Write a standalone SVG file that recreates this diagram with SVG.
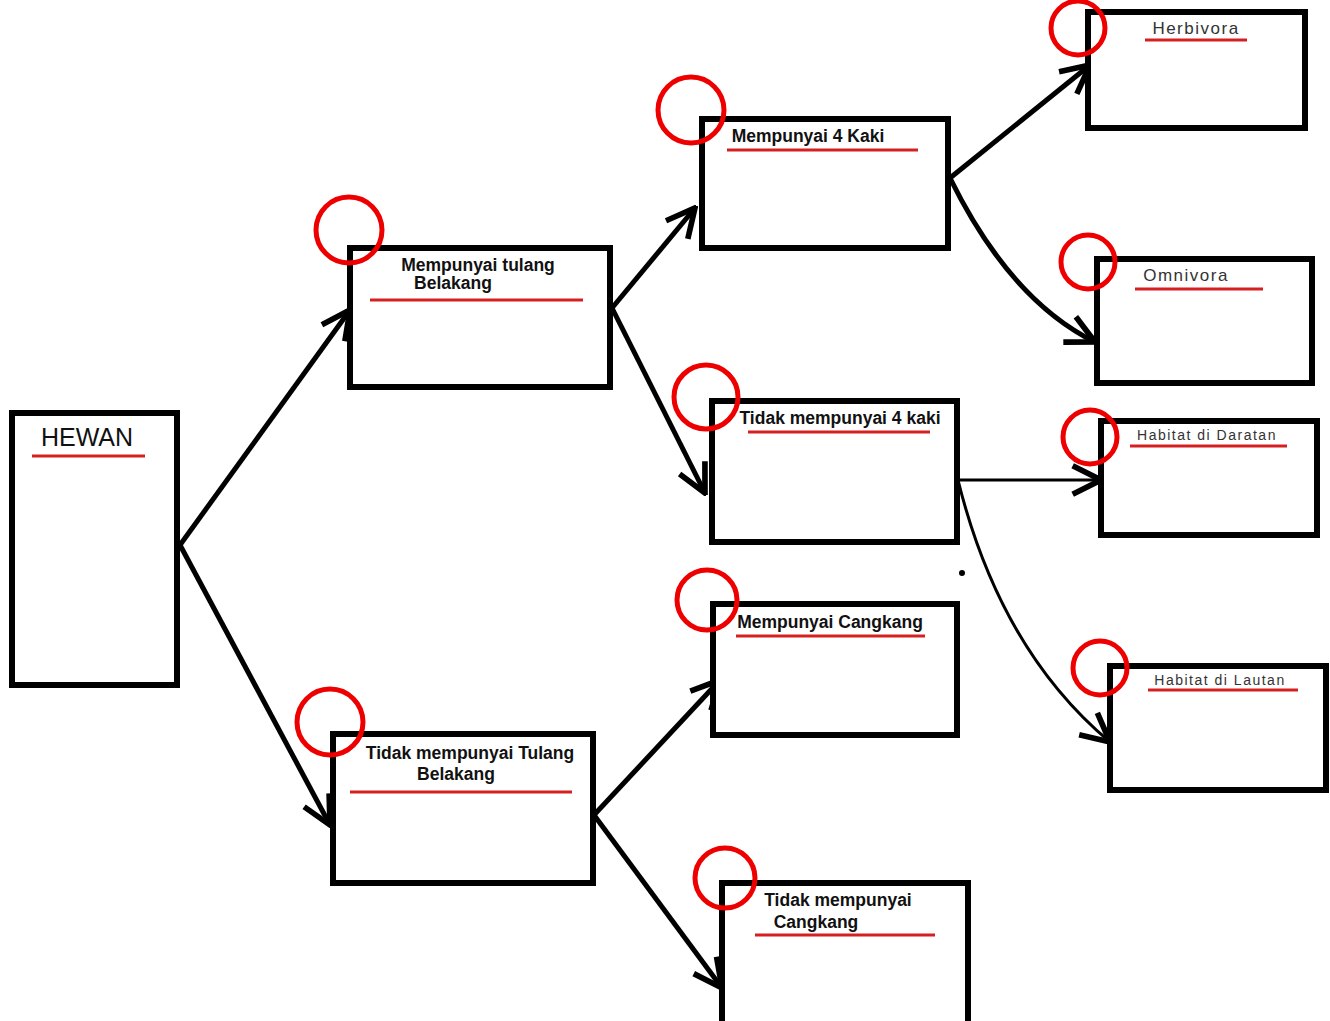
<svg xmlns="http://www.w3.org/2000/svg" width="1330" height="1021" viewBox="0 0 1330 1021">
<defs>
<style>
.box{fill:#fff;stroke:#000;stroke-width:6}
.ring{fill:none;stroke:#e00;stroke-width:5}
.ul{stroke:#d62020;stroke-width:3}
.t{font-family:"Liberation Sans",Arial,sans-serif;font-size:17.5px;font-weight:bold;fill:#111;text-anchor:middle}
.tl{font-family:"Liberation Sans",Arial,sans-serif;font-size:17px;letter-spacing:1.5px;fill:#333;text-anchor:middle}
.ts{font-family:"Liberation Sans",Arial,sans-serif;font-size:14px;letter-spacing:1.5px;fill:#333;text-anchor:middle}
.c{fill:none;stroke:#000;stroke-width:5}
.thin{fill:none;stroke:#000;stroke-width:3}
</style>
<marker id="ah" viewBox="0 0 12 12" refX="11" refY="6" markerWidth="34" markerHeight="34" markerUnits="userSpaceOnUse" orient="auto">
<path d="M1,1 L11,6 L1,11" fill="none" stroke="#000" stroke-width="2"/>
</marker>
</defs>
<rect width="1330" height="1021" fill="#fff"/>
<g id="connectors">
<path class="c" d="M180,545 L350,310" marker-end="url(#ah)"/>
<path class="c" d="M180,545 L330,825" marker-end="url(#ah)"/>
<path class="c" d="M612,308 L695,208" marker-end="url(#ah)"/>
<path class="c" d="M612,308 L705,493" marker-end="url(#ah)"/>
<path class="c" d="M594,815 L720,680" marker-end="url(#ah)"/>
<path class="c" d="M594,815 L722,988" marker-end="url(#ah)"/>
<path class="c" d="M950,178 L1090,65" marker-end="url(#ah)"/>
<path class="c" d="M950,178 Q1010,300 1095,342" marker-end="url(#ah)"/>
<path class="thin" d="M958,480 L1101,480" marker-end="url(#ah)"/>
<path class="thin" d="M958,480 Q1000,650 1110,742" marker-end="url(#ah)"/>
<circle cx="962" cy="573" r="3" fill="#000"/>
</g>
<g id="n-hewan">
<rect class="box" x="12" y="413" width="165" height="272"/>
<text x="87" y="446" text-anchor="middle" style="font-family:'Liberation Sans',Arial,sans-serif;font-size:25px;fill:#111">HEWAN</text>
<line class="ul" x1="32" y1="456" x2="145" y2="456"/>
</g>
<g id="n-tulang">
<rect class="box" x="350" y="248" width="260" height="139"/>
<text class="t" x="478" y="271">Mempunyai tulang</text>
<text class="t" x="453" y="289">Belakang</text>
<line class="ul" x1="370" y1="300" x2="583" y2="300"/>
<circle class="ring" cx="349" cy="230" r="33"/>
</g>
<g id="n-tidak-tulang">
<rect class="box" x="333" y="734" width="260" height="149"/>
<text class="t" x="470" y="759">Tidak mempunyai Tulang</text>
<text class="t" x="456" y="780">Belakang</text>
<line class="ul" x1="350" y1="792" x2="572" y2="792"/>
<circle class="ring" cx="330" cy="722" r="33"/>
</g>
<g id="n-4kaki">
<rect class="box" x="702" y="119" width="246" height="129"/>
<text class="t" x="808" y="142">Mempunyai 4 Kaki</text>
<line class="ul" x1="727" y1="150" x2="918" y2="150"/>
<circle class="ring" cx="691" cy="110" r="33"/>
</g>
<g id="n-tidak-4kaki">
<rect class="box" x="712" y="401" width="245" height="141"/>
<text class="t" x="840" y="424">Tidak mempunyai 4 kaki</text>
<line class="ul" x1="748" y1="432" x2="930" y2="432"/>
<circle class="ring" cx="706" cy="397" r="32"/>
</g>
<g id="n-cangkang">
<rect class="box" x="713" y="604" width="244" height="131"/>
<text class="t" x="830" y="628">Mempunyai Cangkang</text>
<line class="ul" x1="736" y1="636" x2="925" y2="636"/>
<circle class="ring" cx="707" cy="600" r="30"/>
</g>
<g id="n-tidak-cangkang">
<rect class="box" x="722" y="883" width="246" height="145"/>
<text class="t" x="838" y="906">Tidak mempunyai</text>
<text class="t" x="816" y="928">Cangkang</text>
<line class="ul" x1="755" y1="935" x2="935" y2="935"/>
<circle class="ring" cx="725" cy="878" r="30"/>
</g>
<g id="n-herbivora">
<rect class="box" x="1088" y="12" width="217" height="116"/>
<text class="tl" x="1196" y="34">Herbivora</text>
<line class="ul" x1="1145" y1="40" x2="1247" y2="40"/>
<circle class="ring" cx="1078" cy="28" r="27"/>
</g>
<g id="n-omnivora">
<rect class="box" x="1097" y="259" width="215" height="124"/>
<text class="tl" x="1186" y="281">Omnivora</text>
<line class="ul" x1="1135" y1="289" x2="1263" y2="289"/>
<circle class="ring" cx="1088" cy="262" r="27"/>
</g>
<g id="n-daratan">
<rect class="box" x="1101" y="421" width="216" height="114"/>
<text class="ts" x="1207" y="440">Habitat di Daratan</text>
<line class="ul" x1="1130" y1="446" x2="1287" y2="446"/>
<circle class="ring" cx="1090" cy="437" r="27"/>
</g>
<g id="n-lautan">
<rect class="box" x="1110" y="666" width="216" height="124"/>
<text class="ts" x="1220" y="685">Habitat di Lautan</text>
<line class="ul" x1="1148" y1="690" x2="1298" y2="690"/>
<circle class="ring" cx="1100" cy="668" r="27"/>
</g>
</svg>
